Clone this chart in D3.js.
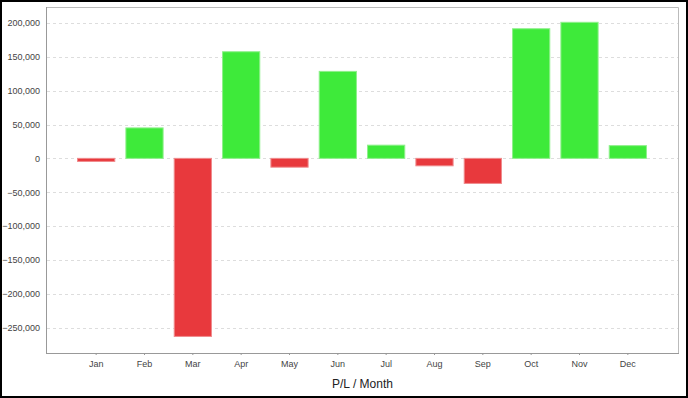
<!DOCTYPE html>
<html>
<head>
<meta charset="utf-8">
<script src="https://cdn.jsdelivr.net/npm/d3@7"></script>
<style>
  body { margin: 0; background: #fff; }
  svg { display: block; font-family: "Liberation Sans", Arial, sans-serif; }
</style>
</head>
<body>
<div id="chart"></div>
<script>
// P/L per month
var months = ['Jan', 'Feb', 'Mar', 'Apr', 'May', 'Jun', 'Jul', 'Aug', 'Sep', 'Oct', 'Nov', 'Dec'];
var profit = [-4500, 45000, -263000, 157500, -13000, 128500, 19500, -11000, -37000, 191500, 201000, 18800];
var yTicks = [-250000, -200000, -150000, -100000, -50000, 0, 50000, 100000, 150000, 200000];

var width = 688;
var height = 398;
var margin = { top: 7, right: 9, bottom: 45, left: 46 };

var svg = d3.select('#chart')
    .append('svg')
    .attr('width', width)
    .attr('height', height);

// outer frame
svg.append('rect')
    .attr('x', 1).attr('y', 1)
    .attr('width', width - 2).attr('height', height - 2)
    .attr('fill', 'none')
    .attr('stroke', '#000')
    .attr('stroke-width', 2);

var plotW = width - margin.left - margin.right;
var plotH = height - margin.top - margin.bottom;

var g = svg.append('g')
    .attr('transform', 'translate(' + margin.left + ',' + margin.top + ')');

var x = d3.scaleBand()
    .domain(months)
    .range([26, plotW - 27])
    .paddingInner(0.23)
    .paddingOuter(0.115);

var y = d3.scaleLinear()
    .domain([-287500, 223600])
    .range([plotH, 0]);

// top / right frame of plot
g.append('path')
    .attr('d', 'M0.5,0.5H' + (plotW - 0.5) + 'V' + plotH)
    .attr('fill', 'none')
    .attr('stroke', '#bbb');

// grid lines
g.selectAll('line.grid')
    .data(yTicks)
    .enter()
    .append('line')
    .attr('class', 'grid')
    .attr('x1', 1)
    .attr('x2', plotW - 1)
    .attr('y1', function(d) { return Math.round(y(d)) + 0.5; })
    .attr('y2', function(d) { return Math.round(y(d)) + 0.5; })
    .attr('stroke', '#ddd')
    .attr('stroke-dasharray', '3,3');

// bars
g.selectAll('rect.bar')
    .data(profit)
    .enter()
    .append('rect')
    .attr('class', 'bar')
    .attr('x', function(d, i) { return x(months[i]); })
    .attr('width', x.bandwidth())
    .attr('y', function(d) { return y(Math.max(0, d)); })
    .attr('height', function(d) { return Math.abs(y(d) - y(0)); })
    .attr('fill', function(d) { return d >= 0 ? '#3eea3a' : '#e8393d'; })
    .attr('stroke', function(d) { return d >= 0 ? '#8ef08b' : '#ef8a8c'; })
    .attr('stroke-width', 1);

// y axis
var yAxis = g.append('g')
    .call(d3.axisLeft(y)
        .tickValues(yTicks)
        .tickSize(0)
        .tickPadding(6)
        .tickFormat(d3.format(',')));
yAxis.select('.domain').attr('stroke', '#999').attr('d', 'M0.5,0V' + plotH);
yAxis.selectAll('text')
    .attr('fill', '#444')
    .style('font-size', '9px');

// x axis
var xAxis = g.append('g')
    .attr('transform', 'translate(0,' + plotH + ')')
    .call(d3.axisBottom(x).tickSize(2).tickPadding(6));
xAxis.select('.domain').attr('stroke', '#999').attr('d', 'M0,0.5H' + plotW);
xAxis.selectAll('line').attr('stroke', '#999');
xAxis.selectAll('text')
    .attr('fill', '#444')
    .style('font-size', '9px');

// axis title
svg.append('text')
    .attr('x', margin.left + plotW / 2)
    .attr('y', 388)
    .attr('text-anchor', 'middle')
    .attr('fill', '#222')
    .style('font-size', '12px')
    .text('P/L / Month');
</script>
</body>
</html>
